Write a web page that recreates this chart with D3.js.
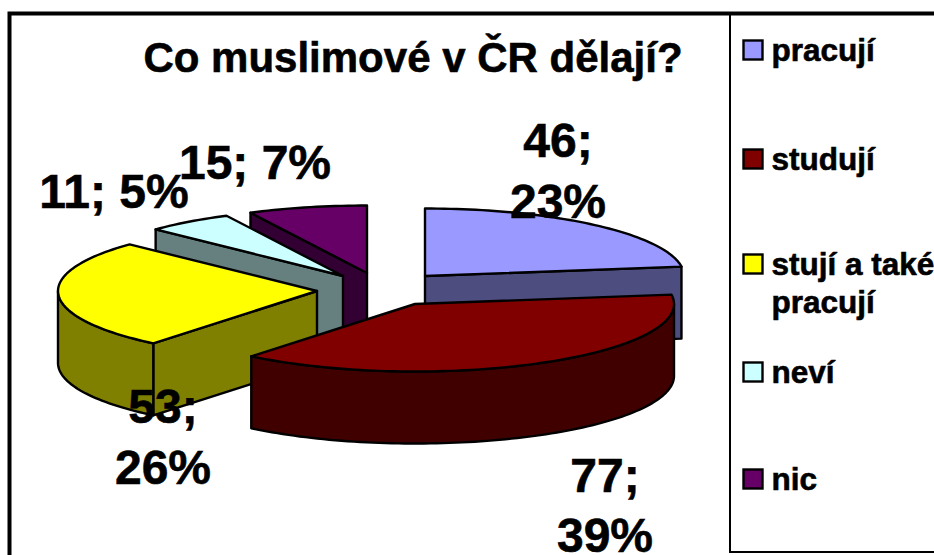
<!DOCTYPE html>
<html><head><meta charset="utf-8">
<script src="https://cdnjs.cloudflare.com/ajax/libs/d3/7.8.5/d3.min.js"></script>
<style>html,body{margin:0;padding:0;background:#fff;overflow:hidden}svg{display:block}text{font-family:"Liberation Sans",Arial,sans-serif;font-weight:bold;fill:#000;stroke:#000;stroke-width:.6px}</style>
</head><body>
<script>
const title = "Co muslimové v ČR dělají?";
const categories = ["pracují", "studují", "stují a také pracují", "neví", "nic"];
const values = [46, 77, 53, 11, 15];
const percents = [23, 39, 26, 5, 7];

// Layout and styling, kept apart from the data
const topColors = ["#9999FF", "#800000", "#FFFF00", "#CCFFFF", "#660066"];
const wallColors = ["#4D4D80", "#400000", "#808000", "#668080", "#330033"];
const centers = [[425,276],[415,304],[317,291],[343,276],[367,273]];
const drawOrder = [4,3,0,2,1];
const legendY = [50,159,264,372,479];
const legendLines = [["pracují"],["studují"],["stují a také","pracují"],["neví"],["nic"]];
const labelLayout = [
  {x:558, ys:[157,218], split:true},
  {x:605, ys:[492,552], split:true},
  {x:163, ys:[423,484], split:true},
  {x:114, ys:[208], split:false},
  {x:255, ys:[179], split:false}
];
const rx = 259, ry = 67.5, depth = 72;

const svg = d3.select("body").append("svg").attr("width",934).attr("height",555);
const line = d3.line();
const arcs = d3.pie().sort(null).value(d=>d)(values);
const TAU = Math.PI*2;

function rim(i,a,dz=0){const c=centers[i];return [c[0]+rx*Math.sin(a), c[1]-ry*Math.cos(a)+dz];}
function arcPts(i,a0,a1,dz=0){const n=Math.max(2,Math.ceil(Math.abs(a1-a0)*40));
  return d3.range(n+1).map(k=>rim(i,a0+(a1-a0)*k/n,dz));}

const pieG = svg.append("g").attr("stroke","#000").attr("stroke-width",2.4).attr("stroke-linejoin","round");
function poly(pts,fill){pieG.append("path").attr("d",line(pts)+"Z").attr("fill",fill);}

drawOrder.forEach(i=>{
  const {startAngle:a0,endAngle:a1}=arcs[i];
  const c=centers[i], c2=[c[0],c[1]+depth];
  // radial walls facing the viewer
  if(Math.sin(a0)<-1e-6) poly([rim(i,a0),c,c2,rim(i,a0,depth)],wallColors[i]);
  if(Math.sin(a1)>1e-6) poly([c,rim(i,a1),rim(i,a1,depth),c2],wallColors[i]);
  // outer wall for the front half of the ellipse
  const f0=Math.max(a0,TAU/4), f1=Math.min(a1,TAU*3/4);
  if(f1>f0) poly([...arcPts(i,f0,f1),...arcPts(i,f1,f0,depth)],wallColors[i]);
  // top face
  poly([c,...arcPts(i,a0,a1)],topColors[i]);
});

// Frame and legend box
svg.append("rect").attr("x",9.5).attr("y",13.5).attr("width",1000).attr("height",600)
  .attr("fill","none").attr("stroke","#000").attr("stroke-width",4);
svg.append("rect").attr("x",730).attr("y",13.5).attr("width",300).attr("height",538.5)
  .attr("fill","none").attr("stroke","#000").attr("stroke-width",2);

svg.append("text").attr("x",413).attr("y",71.5).attr("text-anchor","middle")
  .attr("font-size",42).text(title);

// Data labels
values.forEach((v,i)=>{
  const l=labelLayout[i];
  const parts=l.split?[`${v};`,`${percents[i]}%`]:[`${v}; ${percents[i]}%`];
  parts.forEach((t,k)=>svg.append("text").attr("x",l.x).attr("y",l.ys[k])
    .attr("text-anchor","middle").attr("font-size",48).text(t));
});

// Legend
categories.forEach((cat,i)=>{
  svg.append("rect").attr("x",743.5).attr("y",legendY[i]-9.5).attr("width",19).attr("height",19)
    .attr("fill",topColors[i]).attr("stroke","#000").attr("stroke-width",2.4);
  legendLines[i].forEach((t,k)=>svg.append("text").attr("x",771.5).attr("y",legendY[i]+11+k*38)
    .attr("font-size",31.5).text(t));
});
</script>
</body></html>
